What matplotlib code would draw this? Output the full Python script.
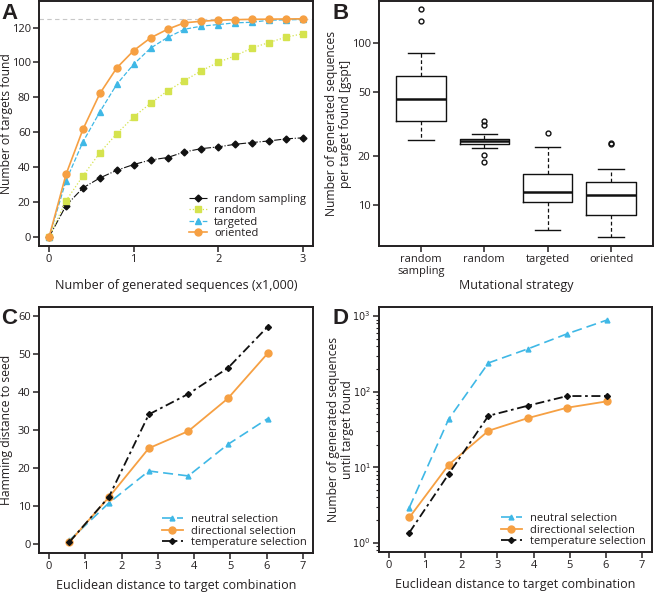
import numpy as np
import matplotlib
matplotlib.use("Agg")
import matplotlib.pyplot as plt
from matplotlib.ticker import LogLocator, FixedLocator, NullFormatter

plt.rcParams['font.family'] = ['Open Sans', 'DejaVu Sans']
plt.rcParams['font.size'] = 8
plt.rcParams['text.color'] = '#231f20'
plt.rcParams['axes.labelcolor'] = '#231f20'
plt.rcParams['xtick.color'] = '#231f20'
plt.rcParams['ytick.color'] = '#231f20'

#### DATA
# panel A
seq_k = [0, 0.2, 0.4, 0.6, 0.8, 1.0, 1.2, 1.4, 1.6, 1.8, 2.0, 2.2, 2.4, 2.6, 2.8, 3.0]
rand_sampling = [0, 18, 28.1, 33.8, 38.2, 41.5, 44.1, 45.5, 48.7, 50.6, 51.6, 53.1, 54.1, 55.0, 56.2, 56.8]
rand_mut = [0, 20.8, 35, 48.3, 59.2, 68.8, 76.6, 83.7, 89.6, 95.2, 100.1, 103.8, 108.3, 111.4, 114.5, 116.4]
targeted = [0, 32.3, 54.5, 71.7, 87.5, 99, 108.2, 114.3, 119, 120.8, 121.7, 122.7, 123, 124.2, 124.4, 124.6]
oriented = [0, 35.9, 61.7, 82.2, 96.9, 106.8, 114.1, 119, 122.7, 123.6, 124.2, 124.5, 124.7, 124.8, 124.9, 125]
n_targets = 125

# panel B (box stats, gspt)
strategies = ["random\nsampling", "random", "targeted", "oriented"]
q1 = [33.2, 23.7, 10.4, 8.67]
med = [45, 24.7, 12.0, 11.5]
q3 = [62.4, 25.4, 15.5, 13.8]
whislo = [25.2, 22.3, 6.95, 6.3]
whishi = [87.5, 27.4, 22.6, 16.7]
fliers = [[163, 137], [33, 31, 20.4, 18.3], [27.7], [23.8, 24.2]]

# panels C and D
eucl = [0.56, 1.65, 2.75, 3.84, 4.93, 6.03]
ham_neutral = [0.9, 10.8, 19.2, 17.9, 26.2, 33.0]
ham_directional = [0.5, 12.3, 25.2, 29.7, 38.3, 50.2]
ham_temperature = [0.5, 12.4, 34.1, 39.5, 46.3, 57.2]
gen_neutral = [2.94, 43.4, 240, 368, 583, 885]
gen_directional = [2.17, 10.8, 30.4, 44.7, 61.4, 74.5]
gen_temperature = [1.37, 8.16, 48, 65.2, 87.6, 87.6]

orange = '#f6a043'
cyan = '#3fb8e6'
yellow = '#d5e34e'
black = '#111111'

W, H = 655, 592
fig = plt.figure(figsize=(W / 100, H / 100), dpi=100)


def make_ax(l, t, r, b):
    ax = fig.add_axes([l / W, 1 - b / H, (r - l) / W, (b - t) / H])
    for s in ax.spines.values():
        s.set_linewidth(1.4)
        s.set_color('#231f20')
    ax.tick_params(direction='out', length=4, width=1.1, labelsize=8, pad=2)
    return ax


def put_legend(ax, y0, hl):
    ax.legend(loc='lower right', frameon=False, fontsize=8, handlelength=hl,
              handletextpad=0.7, labelspacing=0.05, borderaxespad=0.2,
              bbox_to_anchor=(1.0, y0))


def ylabel_at(ax, text, x_px, lw_px):
    # centre the (rotated) label on a given pixel column
    ax.set_ylabel(text, fontsize=8.7, linespacing=1.1)
    ax.yaxis.label.set_verticalalignment('center')
    ax.yaxis.set_label_coords(x_px / lw_px, 0.5)


#### PANEL A
axA = make_ax(39, 1, 313, 246)
axA.axhline(n_targets, color='#c8c8c8', lw=0.8, ls=(0, (4, 3)), zorder=0)
axA.plot(seq_k, rand_sampling, color=black, ls='-.', lw=0.8, marker='D', ms=3.5, label='random sampling')
axA.plot(seq_k, rand_mut, color=yellow, ls=':', lw=0.9, marker='s', ms=4, label='random')
axA.plot(seq_k, targeted, color=cyan, ls='--', lw=0.9, marker='^', ms=4.5, label='targeted')
axA.plot(seq_k, oriented, color=orange, ls='-', lw=1.2, marker='o', ms=5, label='oriented')
axA.set_xlim(-0.12, 3.12)
axA.set_ylim(-5.2, 135.2)
axA.set_xticks([0, 1, 2, 3])
axA.set_yticks([0, 20, 40, 60, 80, 100, 120])
axA.set_xlabel('Number of generated sequences (x1,000)', fontsize=9, labelpad=10)
ylabel_at(axA, 'Number of targets found', 6.5 - 39, 274)
put_legend(axA, 0.0, 1.6)

#### PANEL B
axB = make_ax(379, 1, 653, 246)
stats = []
for i in range(len(strategies)):
    stats.append(dict(med=med[i], q1=q1[i], q3=q3[i], whislo=whislo[i],
                      whishi=whishi[i], fliers=fliers[i]))
axB.bxp(stats, positions=[1, 2, 3, 4], widths=0.78, showfliers=True,
        boxprops=dict(color=black, lw=1.0),
        medianprops=dict(color=black, lw=1.8),
        whiskerprops=dict(color=black, lw=0.9, ls=(0, (3, 2))),
        capprops=dict(color=black, lw=1.0),
        flierprops=dict(marker='o', ms=3.5, mfc='none', mec=black, mew=1.0),
        capwidths=0.4)
axB.set_yscale('log')
axB.set_ylim(5.53, 183)
axB.set_xlim(0.34, 4.66)
axB.yaxis.set_major_locator(FixedLocator([10, 20, 50, 100]))
axB.yaxis.set_minor_locator(FixedLocator([]))
axB.set_yticklabels(['10', '20', '50', '100'])
axB.set_xticks([1, 2, 3, 4])
axB.set_xticklabels(strategies, fontsize=8, linespacing=1.1)
axB.set_xlabel('Mutational strategy', fontsize=9, labelpad=1)
ylabel_at(axB, 'Number of generated sequences\nper target found [gspt]', 338 - 379, 274)

#### PANEL C
axC = make_ax(39, 307, 313, 553)
axC.plot(eucl, ham_neutral, color=cyan, ls=(0, (6, 3)), lw=1.2, marker='^', ms=3.5, label='neutral selection')
axC.plot(eucl, ham_directional, color=orange, ls='-', lw=1.3, marker='o', ms=5, label='directional selection')
axC.plot(eucl, ham_temperature, color=black, ls=(0, (5, 2, 1.5, 2)), lw=1.3, marker='D', ms=3, label='temperature selection')
axC.set_xlim(-0.28, 7.28)
axC.set_ylim(-2.4, 62.4)
axC.set_xticks(range(8))
axC.set_yticks([0, 10, 20, 30, 40, 50, 60])
axC.set_xlabel('Euclidean distance to target combination', fontsize=9, labelpad=5)
ylabel_at(axC, 'Hamming distance to seed', 7 - 39, 274)
put_legend(axC, -0.008, 1.9)

#### PANEL D
axD = make_ax(379, 307, 652, 552)
axD.plot(eucl, gen_neutral, color=cyan, ls=(0, (6, 3)), lw=1.2, marker='^', ms=3.5, label='neutral selection')
axD.plot(eucl, gen_directional, color=orange, ls='-', lw=1.3, marker='o', ms=5, label='directional selection')
axD.plot(eucl, gen_temperature, color=black, ls=(0, (5, 2, 1.5, 2)), lw=1.3, marker='D', ms=3, label='temperature selection')
axD.set_yscale('log')
axD.set_xlim(-0.28, 7.28)
axD.set_ylim(10 ** -0.12, 10 ** 3.12)
axD.set_xticks(range(8))
axD.yaxis.set_major_locator(FixedLocator([1, 10, 100, 1000]))
axD.yaxis.set_minor_locator(LogLocator(base=10, subs=np.arange(2, 10)))
axD.yaxis.set_minor_formatter(NullFormatter())
axD.set_yticklabels(['$10^0$', '$10^1$', '$10^2$', '$10^3$'])
axD.tick_params(axis='y', which='major', labelsize=7)
axD.tick_params(axis='y', which='minor', length=2.5, width=0.8)
axD.set_xlabel('Euclidean distance to target combination', fontsize=9, labelpad=5)
ylabel_at(axD, 'Number of generated sequences\nuntil target found', 340 - 379, 273)
put_legend(axD, -0.008, 1.9)

# panel letters
for txt, x, y in [('A', 1, 3), ('B', 332, 3), ('C', 1, 308), ('D', 332, 308)]:
    fig.text(x / W, 1 - y / H, txt, fontsize=16, fontweight='bold', va='top', ha='left',
             family=['Liberation Sans', 'DejaVu Sans'])

fig.savefig('out.png', dpi=100)
